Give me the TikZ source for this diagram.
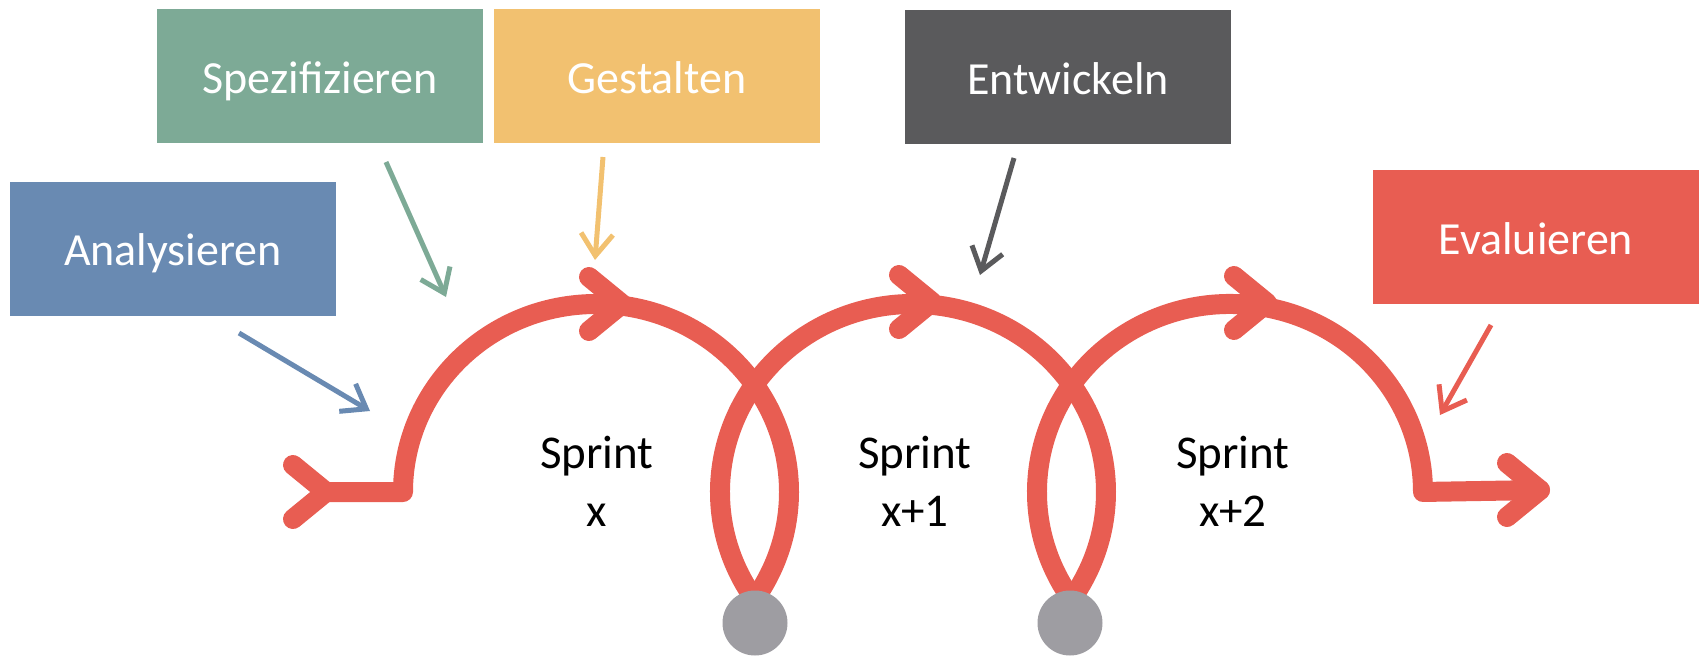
\documentclass[tikz,border=0pt]{standalone}
\usepackage{fontspec}
\setmainfont{Carlito}
\usetikzlibrary{arrows.meta,calc}
\definecolor{cred}{HTML}{E85D52}
\definecolor{cgreen}{HTML}{7DAA96}
\definecolor{cyellow}{HTML}{F2C170}
\definecolor{cdark}{HTML}{5A5A5C}
\definecolor{cblue}{HTML}{698AB2}
\definecolor{cgray}{HTML}{9E9DA2}
\tikzset{
  box/.style={rectangle, minimum width=326pt, minimum height=134pt, inner sep=0pt,
    text=white, font=\fontsize{46}{55}\selectfont, text height=34pt, text depth=0pt},
  loopline/.style={line width=20pt, draw=cred, line cap=round, line join=round},
  pointer/.style={line width=5pt, -{Straight Barb[length=22pt,width=32pt]}},
  dot/.style={circle, fill=cgray, minimum size=65pt, inner sep=0pt},
  sprint/.style={align=center, font=\fontsize{47}{58}\selectfont, text=black},
  chev/.pic={\draw[loopline] (-33,27) -- (0,0) -- (-33,-27);}
}
\begin{document}
\begin{tikzpicture}[x=1pt,y=1pt]
\useasboundingbox (0,0) rectangle (1701,-659);

% boxes
\node[box, fill=cblue]   (ana) at (173,-248.5) {Analysieren};
\node[box, fill=cgreen]  (spe) at (320,-76)    {Spezifizieren};
\node[box, fill=cyellow] (ges) at (657,-76)    {Gestalten};
\node[box, fill=cdark]   (ent) at (1068,-77)   {Entwickeln};
\node[box, fill=cred]    (eva) at (1536,-237)  {Evaluieren};

% loop path
\coordinate (start) at (326,-492);
\coordinate (corner) at (403,-492);
\coordinate (b1) at (754.9,-599.8);
\coordinate (b2) at (1071.9,-599.8);
\coordinate (finish) at (1540,-490);
\draw[loopline] (start) -- (corner) arc[start angle=180, end angle=-35, x radius=193, y radius=188];
\draw[loopline] (b1) arc[start angle=215, end angle=-35, x radius=193, y radius=188];
\draw[loopline] (b2) arc[start angle=215, end angle=0, x radius=193, y radius=188] -- (finish);

% chevrons
\pic at (start) {chev};
\pic at (622,-304) {chev};
\pic at (932,-302) {chev};
\pic at (1267,-303) {chev};
\pic at (finish) {chev};

% dots
\node[dot] (d1) at (755,-623) {};
\node[dot] (d2) at (1070,-623) {};

% sprint labels
\node[sprint] (s1) at (597,-481) {Sprint\\x};
\node[sprint] (s2) at (915,-481) {Sprint\\x+1};
\node[sprint] (s3) at (1233,-481) {Sprint\\x+2};

% pointers
\coordinate (p1s) at (239,-333);  \coordinate (p1e) at (370,-411);
\coordinate (p2s) at (386,-162);  \coordinate (p2e) at (446,-297);
\coordinate (p3s) at (603,-157);  \coordinate (p3e) at (595,-260);
\coordinate (p4s) at (1014,-158); \coordinate (p4e) at (980,-275);
\coordinate (p5s) at (1491,-325); \coordinate (p5e) at (1440,-415);
\draw[pointer, draw=cblue]   (p1s) -- (p1e);
\draw[pointer, draw=cgreen]  (p2s) -- (p2e);
\draw[pointer, draw=cyellow] (p3s) -- (p3e);
\draw[pointer, draw=cdark]   (p4s) -- (p4e);
\draw[pointer, draw=cred]    (p5s) -- (p5e);
\end{tikzpicture}
\end{document}
